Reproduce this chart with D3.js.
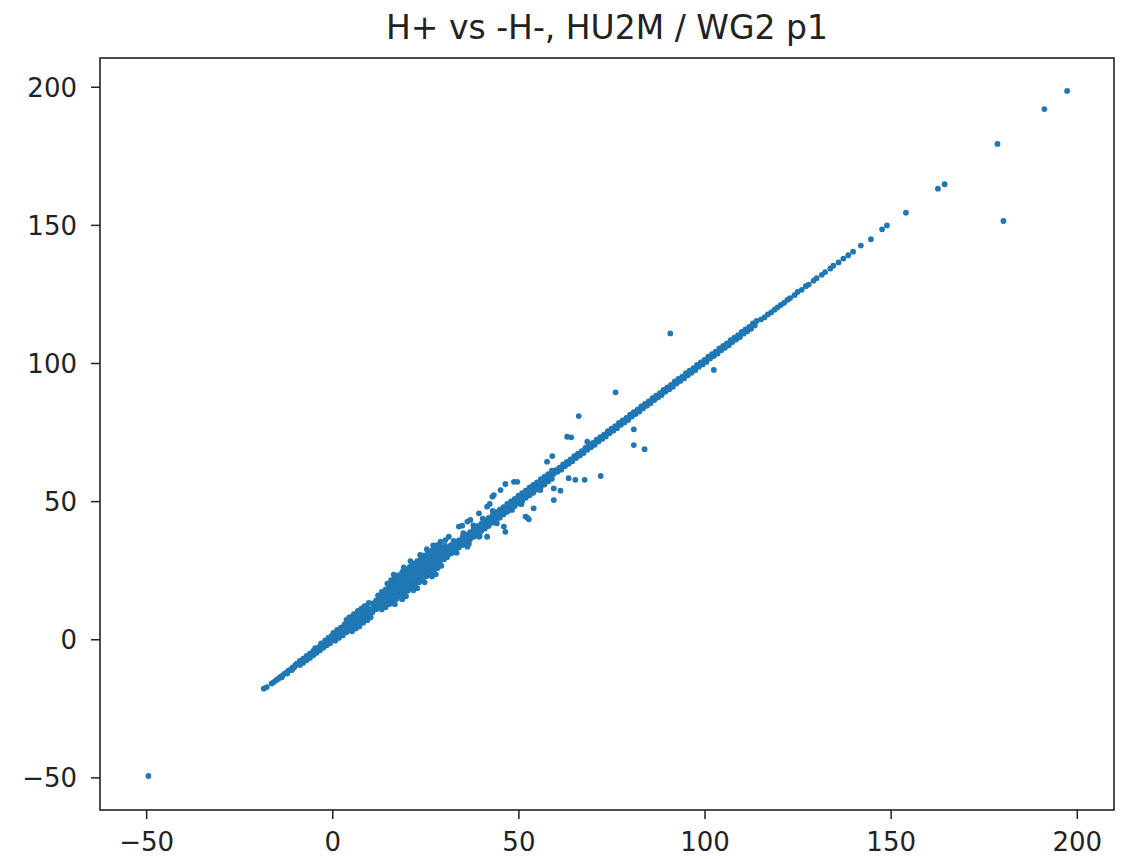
<!DOCTYPE html>
<meta charset="utf-8">
<style>
body { margin: 0; background: #fff; }
.axis text { font-family: "DejaVu Sans", sans-serif; font-size: 26px; fill: #222; }
.axis line { stroke: #222; stroke-width: 1.5px; }
.axis path { display: none; }
.title { font-family: "DejaVu Sans", sans-serif; font-size: 33px; fill: #222; }
</style>
<svg width="1129" height="859"></svg>
<script src="https://d3js.org/d3.v7.min.js"></script>
<script>
// values: x = H+, y = -H-
var tail = [[-18.4,-17.9],[-17.6,-17.3],[-16.3,-16.0],[-15.7,-15.5],[-15.1,-14.8],[-14.5,-14.3],[-14.0,-13.6],[-13.4,-13.2],
  [-12.9,-12.5],[-12.3,-12.1],[-11.8,-11.4],[-11.2,-11.0],[-10.7,-10.3],[-10.2,-10.1],[-13.6,-13.8],[-12.1,-12.4],[-10.8,-11.1],[-10.0,-9.5]];

var fan = [[-9.6,-8.8],[-8.7,-7.8],[-7.8,-7.0],[-6.9,-6.0],[-6.0,-5.2],[-5.1,-4.2],[-4.2,-3.3],[-3.3,-2.4],[-2.4,-1.5],[-1.5,-0.6],[-0.6,0.4],
  [-9.2,-9.1],[-8.3,-8.2],[-7.4,-7.2],[-6.5,-6.4],[-5.6,-5.4],[-4.7,-4.6],[-3.8,-3.7],[-2.9,-2.7],[-2.0,-1.9],[-1.1,-1.0],[-0.2,-0.1],
  [-8.7,-9.3],[-7.8,-8.5],[-6.9,-7.6],[-6.0,-6.8],[-5.1,-5.8],[-4.2,-4.9],[-3.3,-4.0],[-2.4,-3.1],[-1.5,-2.2],[-0.6,-1.4],
  [-4.6,-3.2],[-3.0,-1.5],[-1.9,-0.4],[-1.0,0.6],[-0.1,1.3],
  [0.3,2.3],[1.3,3.4],[2.3,4.2],[3.3,5.4],[4.3,6.2],[5.3,7.4],[6.3,8.3],[7.3,9.5],[8.3,10.4],[9.3,11.6],
  [0.8,1.6],[1.8,2.6],[2.8,3.7],[3.8,4.6],[4.8,5.7],[5.8,6.6],[6.8,7.7],[7.8,8.5],[8.8,9.7],[9.8,10.6],
  [0.3,0.0],[1.3,1.0],[2.3,2.0],[3.3,3.0],[4.3,4.0],[5.3,5.0],[6.3,5.9],[7.3,7.0],[8.3,7.9],[9.3,9.0],
  [0.8,-0.5],[1.8,0.5],[2.8,1.4],[3.8,2.5],[4.8,3.4],[5.8,4.6],[6.8,5.4],[7.8,6.6],[8.8,7.4],[9.8,8.6],
  [3.8,7.0],[4.8,8.0],[5.8,9.1],[6.8,10.0],[7.8,11.1],[8.8,12.0],[9.8,13.2],
  [5.3,2.9],[6.3,3.9],[7.3,4.8],[8.3,6.0],[9.3,6.9],[10.3,8.0],
  [4.5,7.8],[6.9,10.3],[8.6,11.9],[7.2,4.6],[9.5,7.1]];

var blob = [[16.5,23.4],[19.2,26.0],[21.0,28.3],[23.6,30.5],[25.4,32.6],[27.1,34.0],
  [14.8,20.1],[15.8,21.4],[16.8,22.3],[17.8,23.2],[18.8,24.4],[19.8,25.3],[20.8,26.2],[21.8,27.4],[22.8,28.3],[23.8,29.2],[24.8,30.4],[25.8,31.3],[26.8,32.2],[27.8,33.4],[28.8,34.1],
  [12.3,15.9],[13.3,17.1],[14.3,18.0],[15.3,19.2],[16.3,20.1],[17.3,21.0],[18.3,22.2],[19.3,23.1],[20.3,24.0],[21.3,25.2],[22.3,26.1],[23.3,27.0],[24.3,28.2],[25.3,29.1],[26.3,30.0],[27.3,31.2],[28.3,32.1],[29.3,33.0],[30.3,33.9],
  [10.8,13.0],[11.8,14.1],[12.8,14.9],[13.8,16.0],[14.8,17.1],[15.8,17.9],[16.8,19.0],[17.8,20.1],[18.8,20.9],[19.8,22.0],[20.8,23.1],[21.8,23.9],[22.8,25.0],[23.8,26.1],[24.8,26.9],[25.8,28.0],[26.8,29.1],[27.8,29.9],[28.8,31.0],[29.8,32.1],[30.8,32.9],[31.8,34.0],
  [10.3,10.9],[11.3,12.0],[12.3,12.8],[13.3,13.9],[14.3,15.0],[15.3,15.8],[16.3,16.9],[17.3,18.0],[18.3,18.8],[19.3,19.9],[20.3,21.0],[21.3,21.8],[22.3,22.9],[23.3,24.0],[24.3,24.8],[25.3,25.9],[26.3,27.0],[27.3,27.8],[28.3,28.9],[29.3,30.0],[30.3,30.8],[31.3,31.9],[32.3,33.0],
  [10.8,9.8],[11.8,10.9],[12.8,11.7],[13.8,12.8],[14.8,13.9],[15.8,14.7],[16.8,15.8],[17.8,16.9],[18.8,17.7],[19.8,18.8],[20.8,19.9],[21.8,20.7],[22.8,21.8],[23.8,22.9],[24.8,23.7],[25.8,24.8],[26.8,25.9],[27.8,26.7],[28.8,27.8],[29.8,28.9],[30.8,29.7],
  [13.3,10.8],[14.3,11.6],[15.3,12.7],[16.3,13.8],[17.3,14.6],[18.3,15.7],[19.3,16.8],[20.3,17.6],[21.3,18.7],[22.3,19.8],[23.3,20.6],[24.3,21.7],[25.3,22.8],[26.3,23.6],[27.3,24.7],[28.3,25.8],[29.3,26.6],
  [16.8,12.7],[18.8,14.5],[19.8,15.6],[21.8,17.7],[22.8,18.5],[24.8,20.6],[26.8,22.7],[27.8,23.5]];

var middle = [[30,31.9],[31,32.8],[32,34.0],[33,34.9],[34,35.8],[35,37.0],[36,37.9],[37,38.8],[38,40.0],[39,40.9],[40,41.8],[41,43.0],[42,43.9],[43,44.8],[44,46.0],[45,46.9],[46,47.8],[47,49.0],[48,49.9],[49,50.8],[50,52.0],[51,52.9],[52,53.8],[53,55.0],[54,55.9],[55,56.8],[56,58.0],[57,58.9],[58,59.8],[59,61.0],
  [30.5,31.0],[31.5,32.1],[32.5,32.9],[33.5,34.0],[34.5,35.1],[35.5,35.9],[36.5,37.0],[37.5,38.1],[38.5,38.9],[39.5,40.0],[40.5,41.1],[41.5,41.9],[42.5,43.0],[43.5,44.1],[44.5,44.9],[45.5,46.0],[46.5,47.1],[47.5,47.9],[48.5,49.0],[49.5,50.1],[50.5,50.9],[51.5,52.0],[52.5,53.1],[53.5,53.9],[54.5,55.0],[55.5,56.1],[56.5,56.9],[57.5,58.0],[58.5,59.1],[59.5,59.9],
  [30,29.0],[31,30.2],[32,31.1],[33,32.0],[34,33.2],[35,34.1],[36,35.0],[37,36.2],[38,37.1],[39,38.0],[40,39.2],[41,40.1],[42,41.0],[43,42.2],[44,43.1],[45,44.0],[46,45.2],[47,46.1],[48,47.0],[49,48.2],[50,49.1],[51,50.0],[52,51.2],[53,52.1],[54,53.0],[55,54.2],[56,55.1],[57,56.0],[58,57.2],[59,58.1],
  [32.6,35.6],[35.2,38.4],[37.9,41.2],[40.4,43.7],[43.1,46.5],[33.4,31.3],[36.7,34.6],[39.6,37.4],[44.2,42.0],[50.8,48.9]];

var upper = [[60,61.2],[61,62.1],[62,63.3],[63,64.2],[64,65.1],[65,66.3],[66,67.2],[67,68.1],[68,69.3],[69,70.2],[70,71.1],[71,72.3],[72,73.2],[73,74.1],[74,75.3],[75,76.2],[76,77.1],[77,78.3],[78,79.2],[79,80.1],[80,81.3],[81,82.2],[82,83.1],[83,84.3],[84,85.2],[85,86.1],[86,87.3],[87,88.2],[88,89.1],[89,90.3],[90,91.2],[91,92.1],[92,93.3],[93,94.2],[94,95.1],[95,96.3],[96,97.2],[97,98.1],[98,99.3],[99,100.2],[100,101.1],[101,102.3],[102,103.2],[103,104.1],[104,105.3],[105,106.2],[106,107.1],[107,108.3],[108,109.2],[109,110.1],[110,111.3],[111,112.2],[112,113.1],[113,114.3],[114,115.2],
  [60.5,60.6],[61.5,61.4],[62.5,62.6],[63.5,63.5],[64.5,64.4],[65.5,65.6],[66.5,66.5],[67.5,67.4],[68.5,68.6],[69.5,69.5],[70.5,70.4],[71.5,71.6],[72.5,72.5],[73.5,73.4],[74.5,74.6],[75.5,75.5],[76.5,76.4],[77.5,77.6],[78.5,78.5],[79.5,79.4],[80.5,80.6],[81.5,81.5],[82.5,82.4],[83.5,83.6],[84.5,84.5],[85.5,85.4],[86.5,86.6],[87.5,87.5],[88.5,88.4],[89.5,89.6],[90.5,90.5],[91.5,91.4],[92.5,92.6],[93.5,93.5],[94.5,94.4],[95.5,95.6],[96.5,96.5],[97.5,97.4],[98.5,98.6],[99.5,99.5],[100.5,100.4],[101.5,101.6],[102.5,102.5],[103.5,103.4],[104.5,104.6],[105.5,105.5],[106.5,106.4],[107.5,107.6],[108.5,108.5],[109.5,109.4],[110.5,110.6],[111.5,111.5],[112.5,112.4],[113.5,113.6]];

var sparse = [[115.2,115.8],[116.1,116.5],[117.0,117.6],[117.9,118.3],[118.8,119.3],[119.6,120.1],[120.5,121.0],[121.4,121.8],[122.3,122.9],[123.0,123.5],
  [124.2,124.6],[125.0,125.7],[126.1,126.5],[127.2,127.8],[128.0,128.4],[129.3,129.8],[130.1,130.7],[131.5,131.9],[132.4,132.9],[133.8,134.2],
  [134.6,135.2],[136.0,136.4],[137.3,137.8],[138.6,139.0],[139.9,140.3]];

var outliers = [[197.4,198.5],[191.3,191.9],[178.7,179.3],[180.3,151.4],[164.5,164.7],[162.7,163.1],[154.1,154.4],[149.0,149.8],[147.7,148.4],[144.7,144.8],[142.0,142.5],[-49.4,-49.5],
  [90.8,110.7],[102.5,97.5],[76.1,89.4],[66.2,80.8],[63.1,73.3],[64.2,73.1],[81.0,76.0],[81.0,70.3],[83.9,68.8],[72.1,59.1],[63.5,58.3],[65.3,57.7],[67.8,57.7],
  [59.1,66.3],[57.7,64.3],[68.5,71.5],[59.5,54.6],[61.3,53.8],[59.5,50.4],[54.1,47.4],[52.4,44.0],[48.8,57.0],[49.7,57.0],[46.5,56.2],[45.2,54.0],[43.0,51.6],
  [43.4,52.2],[41.6,48.0],[42.3,49.0],[39.4,45.6],[36.3,42.6],[37.1,43.2],[34.0,40.8],[34.9,41.1],[31.3,37.1],[30.4,35.9],[29.1,35.3],[28.2,34.1],[46.1,40.8],
  [46.5,38.9],[41.6,37.1],[39.4,37.1],[36.3,33.5],[55.9,54.0],[51.9,44.4],[52.8,43.4],[48.3,46.8]];

var xTicks = [-50, 0, 50, 100, 150, 200],
    yTicks = [-50, 0, 50, 100, 150, 200];

var svg = d3.select("svg"),
    margin = {top: 58, right: 15, bottom: 49, left: 100},
    width = svg.attr("width") - margin.left - margin.right,
    height = svg.attr("height") - margin.top - margin.bottom,
    g = svg.append("g").attr("transform", "translate(" + margin.left + "," + margin.top + ")");

var x = d3.scaleLinear().domain([-62.4, 210.0]).range([0, width]),
    y = d3.scaleLinear().domain([-61.8, 210.4]).range([height, 0]);

var points = [].concat(tail, fan, blob, middle, upper, sparse, outliers);

g.selectAll(".dot")
    .data(points)
  .enter().append("circle")
    .attr("class", "dot")
    .attr("cx", function(d) { return x(d[0]); })
    .attr("cy", function(d) { return y(d[1]); })
    .attr("r", 2.9)
    .style("fill", "#1f77b4");

g.append("g")
    .attr("class", "axis axis--x")
    .attr("transform", "translate(0," + height + ")")
    .call(d3.axisBottom(x).tickValues(xTicks).tickSize(9).tickPadding(14).tickSizeOuter(0));

g.append("g")
    .attr("class", "axis axis--y")
    .call(d3.axisLeft(y).tickValues(yTicks).tickSize(9).tickPadding(14).tickSizeOuter(0))
  .selectAll("text")
    .attr("dy", "0.36em");

g.append("rect")
    .attr("width", width)
    .attr("height", height)
    .attr("fill", "none")
    .attr("stroke", "#222")
    .attr("stroke-width", 1.6);

svg.append("text")
    .attr("class", "title")
    .attr("x", margin.left + width / 2)
    .attr("y", 39)
    .attr("text-anchor", "middle")
    .text("H+ vs -H-, HU2M / WG2 p1");
</script>
